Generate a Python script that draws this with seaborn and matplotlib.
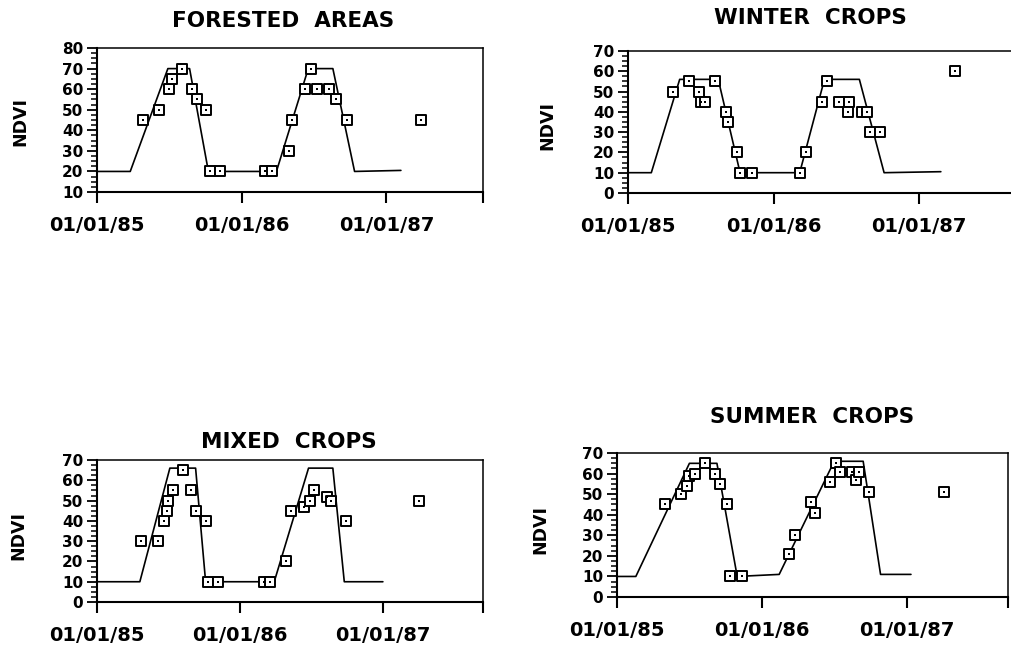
import matplotlib
matplotlib.use('Agg')
import matplotlib.pyplot as plt
import seaborn as sns
from matplotlib.ticker import MultipleLocator, AutoMinorLocator

sns.set_style('ticks')
plt.rcParams['font.family'] = ['DejaVu Sans']
plt.rcParams['font.weight'] = 'bold'
plt.rcParams['text.color'] = 'black'
plt.rcParams['xtick.color'] = 'black'
plt.rcParams['ytick.color'] = 'black'
plt.rcParams['xtick.labelcolor'] = 'black'
plt.rcParams['ytick.labelcolor'] = 'black'

# x = years since 01/01/85
tick_years = [0, 1, 2]
tick_labels = ['01/01/85', '01/01/86', '01/01/87']

# forested areas
forest_line_x = [0.0, 0.23, 0.49, 0.64, 0.77, 1.24, 1.46, 1.63, 1.78, 2.10]
forest_line_y = [20, 20, 70, 70, 20, 20, 70, 70, 20, 20.5]
forest_pts_x = [0.32, 0.43, 0.50, 0.52, 0.59, 0.66, 0.69, 0.75, 0.78, 0.85,
                1.16, 1.21, 1.33, 1.35, 1.44, 1.48, 1.52, 1.60, 1.65, 1.73, 2.24]
forest_pts_y = [45, 50, 60, 65, 70, 60, 55, 50, 20, 20,
                20, 20, 30, 45, 60, 70, 60, 60, 55, 45, 45]

# winter crops
winter_line_x = [0.0, 0.16, 0.355, 0.62, 0.77, 1.18, 1.35, 1.59, 1.76, 2.15]
winter_line_y = [10, 10, 56, 56, 10, 10, 56, 56, 10, 10.5]
winter_pts_x = [0.31, 0.42, 0.49, 0.50, 0.53, 0.60, 0.67, 0.69, 0.75, 0.77, 0.85,
                1.18, 1.22, 1.33, 1.37, 1.45, 1.52, 1.51, 1.61, 1.64, 1.66, 1.73, 2.25]
winter_pts_y = [50, 55, 50, 45, 45, 55, 40, 35, 20, 10, 10,
                10, 20, 45, 55, 45, 45, 40, 40, 40, 30, 30, 60]

# mixed crops
mixed_line_x = [0.0, 0.30, 0.51, 0.69, 0.76, 1.24, 1.48, 1.65, 1.73, 2.0]
mixed_line_y = [10, 10, 66, 66, 10, 10, 66, 66, 10, 10]
mixed_pts_x = [0.31, 0.43, 0.47, 0.49, 0.50, 0.53, 0.60, 0.66, 0.69, 0.76, 0.78, 0.85,
               1.17, 1.21, 1.32, 1.36, 1.45, 1.49, 1.52, 1.61, 1.64, 1.74, 2.25]
mixed_pts_y = [30, 30, 40, 45, 50, 55, 65, 55, 45, 40, 10, 10,
               10, 10, 20, 45, 47, 50, 55, 52, 50, 40, 50]

# summer crops
summer_line_x = [0.0, 0.13, 0.50, 0.69, 0.83, 1.12, 1.50, 1.70, 1.82, 2.03]
summer_line_y = [10, 10, 65, 65, 10, 11, 66, 66, 11, 11]
summer_pts_x = [0.33, 0.44, 0.48, 0.50, 0.54, 0.61, 0.68, 0.71, 0.76, 0.78, 0.86,
                1.19, 1.23, 1.34, 1.37, 1.47, 1.51, 1.54, 1.62, 1.65, 1.67, 1.74, 2.26]
summer_pts_y = [45, 50, 54, 59, 60, 65, 60, 55, 45, 10, 10,
                21, 30, 46, 41, 56, 65, 61, 61, 57, 61, 51, 51]

panels = [
    dict(title='FORESTED  AREAS', lx=forest_line_x, ly=forest_line_y,
         px=forest_pts_x, py=forest_pts_y, ylim=(10, 80), xend=2.667,
         rect=[0.0959, 0.7046, 0.3818, 0.2215], tpos=(283, 21), ypos=(20, 122)),
    dict(title='WINTER  CROPS', lx=winter_line_x, ly=winter_line_y,
         px=winter_pts_x, py=winter_pts_y, ylim=(0, 70), xend=2.667,
         rect=[0.6212, 0.7031, 0.3838, 0.2185], tpos=(810, 18), ypos=(547, 125)),
    dict(title='MIXED  CROPS', lx=mixed_line_x, ly=mixed_line_y,
         px=mixed_pts_x, py=mixed_pts_y, ylim=(0, 70), xend=2.70,
         rect=[0.0959, 0.0738, 0.3818, 0.2185], tpos=(289, 442), ypos=(18, 535)),
    dict(title='SUMMER  CROPS', lx=summer_line_x, ly=summer_line_y,
         px=summer_pts_x, py=summer_pts_y, ylim=(0, 70), xend=2.70,
         rect=[0.6103, 0.0815, 0.3867, 0.2215], tpos=(812, 417), ypos=(540, 530)),
]

W, H = 1011, 650
fig = plt.figure(figsize=(W / 100, H / 100), dpi=100)

for p in panels:
    ax = fig.add_axes(p['rect'])
    sns.lineplot(x=p['lx'], y=p['ly'], ax=ax, color='black', linewidth=1.2,
                 sort=False, estimator=None)
    sns.scatterplot(x=p['px'], y=p['py'], ax=ax, marker='s', s=60,
                    facecolor='white', edgecolor='black', linewidth=1.4, zorder=3)
    sns.scatterplot(x=p['px'], y=p['py'], ax=ax, marker='s', s=4,
                    color='black', linewidth=0, zorder=4)
    ax.set_xlim(0, p['xend'])
    ax.set_ylim(*p['ylim'])
    ax.set_xticks(tick_years + [p['xend']])
    ax.set_xticklabels(tick_labels + [''], fontsize=14, fontweight='bold', color='black')
    ax.yaxis.set_major_locator(MultipleLocator(10))
    ax.yaxis.set_minor_locator(AutoMinorLocator(4))
    for lab in ax.get_yticklabels():
        lab.set_fontsize(11)
        lab.set_fontweight('bold')
        lab.set_color('black')
    ax.tick_params(axis='x', direction='out', length=8, width=1.5, pad=9, colors='black')
    ax.tick_params(axis='y', which='major', direction='out', length=7, width=1.3, pad=3,
                   colors='black')
    ax.tick_params(axis='y', which='minor', direction='out', length=4, width=1.1,
                   colors='black')
    for s in ax.spines.values():
        s.set_linewidth(1.5)
        s.set_color('black')
    ax.spines['top'].set_linewidth(1.1)
    ax.spines['right'].set_linewidth(1.1)
    ax.set_xlabel('')
    ax.set_ylabel('')
    fig.text(p['tpos'][0] / W, 1 - p['tpos'][1] / H, p['title'], ha='center', va='center',
             fontsize=15.5, fontweight='bold', color='black')
    fig.text(p['ypos'][0] / W, 1 - p['ypos'][1] / H, 'NDVI', ha='center', va='center',
             rotation=90, fontsize=12.5, fontweight='bold', color='black')

fig.savefig('out.png', dpi=100)
